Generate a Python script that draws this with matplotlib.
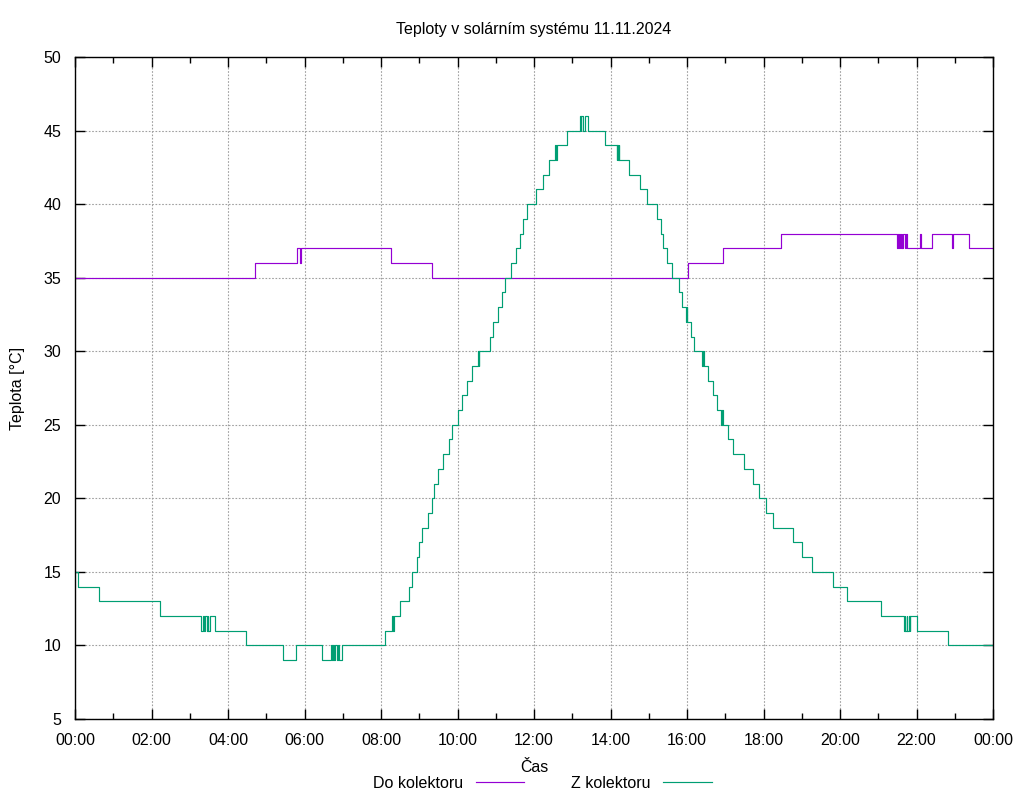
import matplotlib
matplotlib.use("Agg")
import matplotlib.pyplot as plt
from matplotlib.ticker import MultipleLocator, FuncFormatter

plt.rcParams['font.family'] = ['Liberation Sans', 'DejaVu Sans']

# cas v hodinach, hodnota plati od tohoto casu (schody)
do_cas = [0, 4.71, 5.81, 5.89, 5.91, 8.26, 9.34, 16.03, 16.93, 18.47,
          21.50, 21.52, 21.55, 21.57, 21.59, 21.61, 21.63, 21.66, 21.70, 21.72, 21.74,
          22.09, 22.12, 22.41, 22.94, 22.96, 23.37, 24]
do_temp = [35, 36, 37, 36, 37, 36, 35, 36, 37, 38,
           37, 38, 37, 38, 37, 38, 37, 38, 37, 38, 37,
           38, 37, 38, 37, 38, 37, 37]

z_cas = [0, 0.07, 0.635, 2.23,
         3.30, 3.34, 3.37, 3.41, 3.44, 3.47, 3.49, 3.53, 3.66,
         4.47, 5.45, 5.78,
         6.47, 6.69, 6.71, 6.74, 6.76, 6.79, 6.86, 6.88, 6.91, 6.97,
         8.10, 8.29, 8.31, 8.33, 8.50, 8.72, 8.82, 8.93, 9.00, 9.06, 9.24, 9.33,
         9.39, 9.49, 9.62, 9.78, 9.85, 10.01, 10.12, 10.26, 10.39, 10.54, 10.55,
         10.56, 10.85, 10.94, 11.06, 11.17, 11.25, 11.41, 11.53, 11.64, 11.70,
         11.81, 12.05, 12.23, 12.38, 12.55, 12.57, 12.59, 12.87,
         13.20, 13.22, 13.24, 13.29, 13.33, 13.42, 13.86,
         14.16, 14.18, 14.20, 14.21, 14.22, 14.48, 14.77, 14.95, 15.21, 15.31,
         15.38, 15.47, 15.61, 15.80, 15.88, 15.98, 16.00, 16.01, 16.10, 16.19,
         16.39, 16.41, 16.44, 16.56, 16.67, 16.79, 16.90, 16.92, 16.95, 17.08,
         17.21, 17.50, 17.73, 17.89, 18.07, 18.25, 18.78, 19.01, 19.27, 19.82,
         20.17, 21.07,
         21.67, 21.69, 21.70, 21.74, 21.76, 21.80, 21.82, 21.84, 22.02,
         22.83, 24]
z_temp = [15, 14, 13, 12,
          11, 12, 11, 12, 11, 12, 11, 12, 11,
          10, 9, 10,
          9, 10, 9, 10, 9, 10, 9, 10, 9, 10,
          11, 12, 11, 12, 13, 14, 15, 16, 17, 18, 19, 20,
          21, 22, 23, 24, 25, 26, 27, 28, 29, 30, 29,
          30, 31, 32, 33, 34, 35, 36, 37, 38, 39,
          40, 41, 42, 43, 44, 43, 44, 45,
          46, 45, 46, 45, 46, 45, 44,
          43, 44, 43, 44, 43, 42, 41, 40, 39, 38,
          37, 36, 35, 34, 33, 32, 33, 32, 31, 30,
          29, 30, 29, 28, 27, 26, 25, 26, 25, 24,
          23, 22, 21, 20, 19, 18, 17, 16, 15, 14,
          13, 12,
          11, 12, 11, 12, 11, 12, 11, 12, 11,
          10, 10]

fs = 11.5

fig = plt.figure(figsize=(10.24, 8), dpi=100)
ax = fig.add_axes([75/1024, 1 - 719/800, (993-75)/1024, (719-57)/800])

ax.step(do_cas, do_temp, where='post', color='#9400d3', lw=0.85, label='Do kolektoru')
ax.step(z_cas, z_temp, where='post', color='#009e73', lw=0.85, label='Z kolektoru')

ax.set_xlim(0, 24)
ax.set_ylim(5, 50)
ax.xaxis.set_major_locator(MultipleLocator(2))
ax.xaxis.set_minor_locator(MultipleLocator(1))
ax.yaxis.set_major_locator(MultipleLocator(5))
ax.xaxis.set_major_formatter(FuncFormatter(lambda v, p: "%02d:00" % (int(round(v)) % 24)))

ax.tick_params(which='both', direction='in', top=True, right=True, labelsize=fs, width=1)
ax.tick_params(which='major', length=7, pad=10)
ax.tick_params(which='minor', length=4)
ax.grid(True, which='major', color='#a0a0a0', linestyle=(0, (1.5, 1.5)), lw=0.8)
for s in ax.spines.values():
    s.set_linewidth(1)

ax.set_title('Teploty v solárním systému 11.11.2024', fontsize=fs, pad=16.5)
ax.set_xlabel('Čas', fontsize=fs, labelpad=9)
ax.set_ylabel('Teplota [°C]', fontsize=fs, labelpad=13)

ax.legend(loc='upper center', bbox_to_anchor=(0.509, -0.064), ncol=2, frameon=False,
          markerfirst=False, fontsize=fs, handlelength=3.05, columnspacing=2.9,
          handletextpad=0.8)

fig.savefig('out.png', dpi=100)
